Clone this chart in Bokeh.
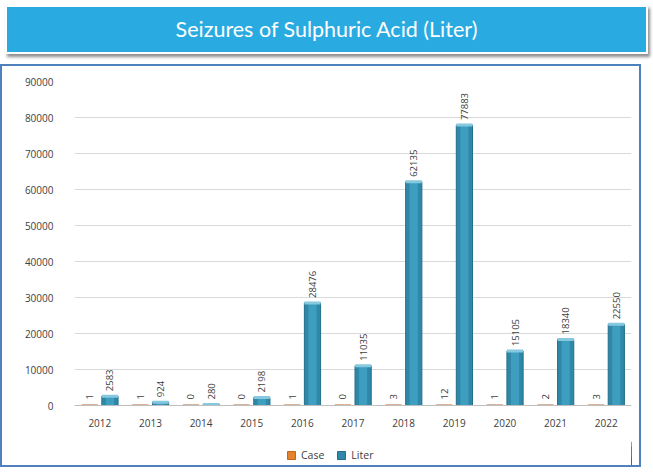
from bokeh.plotting import figure
from bokeh.models import (ColumnDataSource, FactorRange, Range1d, Div, Legend, LegendItem,
                          SingleIntervalTicker, NumeralTickFormatter)
from bokeh.layouts import column
from bokeh.transform import dodge
from bokeh.core.properties import value
from bokeh.embed import file_html
from bokeh.resources import INLINE
import math

# ---- data ----
years = ["2012", "2013", "2014", "2015", "2016", "2017", "2018", "2019", "2020", "2021", "2022"]
case = [1, 1, 0, 0, 1, 0, 3, 12, 1, 2, 3]
liter = [2583, 924, 280, 2198, 28476, 11035, 62135, 77883, 15105, 18340, 22550]
title_text = "Seizures of Sulphuric Acid (Liter)"
series_names = ["Case", "Liter"]

src = ColumnDataSource(dict(
    year=years, case=case, liter=liter,
    case_lbl=[str(v) for v in case], liter_lbl=[str(v) for v in liter],
))

FONT = "Open Sans"
TXT = "#404040"
CASE_FILL, CASE_LINE = "#E5822D", "#C0661A"
LIT_FILL, LIT_LINE = "#2F88A8", "#236E8A"

banner = Div(
    text=title_text, width=643, height=49,
    styles={
        "background-color": "#29ABE2", "color": "white",
        "font-family": "Lato", "font-size": "21.5px",
        "display": "flex", "align-items": "center", "justify-content": "center",
        "border": "2px solid white", "box-sizing": "border-box",
        "box-shadow": "2px 3px 3px rgba(0,0,0,0.45)",
    },
)

xr = FactorRange(*years)
p = figure(
    x_range=xr, y_range=Range1d(0, 90000),
    width=637, height=369, output_backend="svg", toolbar_location=None,
    min_border_left=72, min_border_right=8, min_border_top=15, min_border_bottom=30,
)
p.outline_line_color = None
p.xgrid.grid_line_color = None
p.ygrid.grid_line_color = "#D9D9D9"

p.yaxis.ticker = SingleIntervalTicker(interval=10000)
p.yaxis.formatter = NumeralTickFormatter(format="0")
p.yaxis.axis_line_color = None
p.yaxis.major_tick_line_color = None
p.yaxis.minor_tick_line_color = None
p.yaxis.major_label_standoff = 15
p.yaxis.major_label_text_font = FONT
p.yaxis.major_label_text_font_size = "10px"
p.yaxis.major_label_text_color = TXT

p.xaxis.axis_line_color = "#BFBFBF"
p.xaxis.major_tick_line_color = None
p.xaxis.minor_tick_line_color = None
p.xaxis.major_label_standoff = 7
p.xaxis.major_label_text_font = FONT
p.xaxis.major_label_text_font_size = "10px"
p.xaxis.major_label_text_color = TXT

W = 0.32
p.vbar(x=dodge("year", -0.2, range=xr), top="case", width=W, source=src,
       fill_color=CASE_FILL, line_color=CASE_LINE)
p.vbar(x=dodge("year", 0.2, range=xr), top="liter", width=W, source=src,
       fill_color=LIT_FILL, line_color=LIT_LINE)
p.vbar(x=dodge("year", 0.2, range=xr), top="liter", width=W * 0.5, source=src,
       fill_color="#3E9EC0", line_color=None)
p.rect(x=dodge("year", 0.2, range=xr), y="liter", width=W, height=3, height_units="screen",
       source=src, fill_color="#86C8DE", line_color=None)
p.rect(x=dodge("year", -0.2, range=xr), y="case", width=W, height=3, height_units="screen",
       source=src, fill_color="#D9B49A", line_color=None)

p.text(x=dodge("year", -0.2, range=xr), y="case", text="case_lbl", source=src,
       angle=math.pi / 2, text_align="left", text_baseline="middle", y_offset=-6,
       text_font=value(FONT), text_font_size="9.5px", text_color=TXT)
p.text(x=dodge("year", 0.2, range=xr), y="liter", text="liter_lbl", source=src,
       angle=math.pi / 2, text_align="left", text_baseline="middle", y_offset=-5,
       text_font=value(FONT), text_font_size="9.5px", text_color=TXT)

# legend strip: the same series, shifted far outside the visible x-window, used only for the legend
lg = figure(width=637, height=30, x_range=xr, y_range=Range1d(0, 100000),
            output_backend="svg", toolbar_location=None, min_border=0,
            x_axis_type=None, y_axis_type=None)
lg.outline_line_color = None
lg.grid.visible = False
r_case = lg.vbar(x=dodge("year", 30, range=xr), top="case", width=W, source=src,
                 fill_color=CASE_FILL, line_color=CASE_LINE)
r_liter = lg.vbar(x=dodge("year", 30, range=xr), top="liter", width=W, source=src,
                  fill_color=LIT_FILL, line_color=LIT_LINE)
legend = Legend(items=[LegendItem(label=series_names[0], renderers=[r_case]),
                       LegendItem(label=series_names[1], renderers=[r_liter])],
                orientation="horizontal", location=(212, 3),
                border_line_color=None, background_fill_alpha=0,
                glyph_width=10, glyph_height=10, label_standoff=5, spacing=12,
                label_text_font=FONT, label_text_font_size="10.5px", label_text_color=TXT,
                padding=2, margin=0)
lg.add_layout(legend, "center")

panel = column(p, lg, spacing=0, styles={"border": "2px solid #4F81BD"})
layout = column(banner, panel, spacing=5)
open("out.html", "w").write(file_html(layout, INLINE))
